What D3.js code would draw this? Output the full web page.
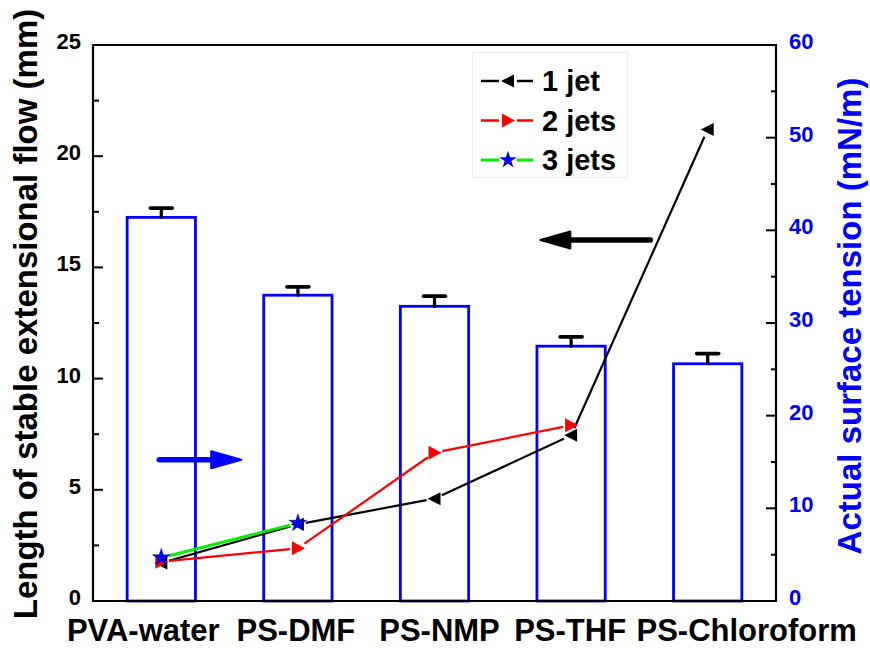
<!DOCTYPE html>
<html>
<head>
<meta charset="utf-8">
<script src="https://cdn.jsdelivr.net/npm/d3@7"></script>
<style>
  body { margin: 0; background: #fff; }
  svg text { font-family: "Liberation Sans", Arial, sans-serif; font-weight: bold; }
</style>
</head>
<body>
<svg id="chart" width="870" height="648"></svg>
<script>
// solvents / categories
const categories = ['PVA-water', 'PS-DMF', 'PS-NMP', 'PS-THF', 'PS-Chloroform'];
// actual surface tension (mN/m), right axis, bars
const surfaceTension = [41.4, 33.0, 31.8, 27.5, 25.6];
const tensionErr = [1.0, 0.9, 1.1, 1.0, 1.1];
// length of stable extensional flow (mm), left axis, lines
const jet1 = [1.71, 3.45, 4.6, 7.45, 21.2];
const jet2 = [1.77, 2.37, 6.67, 7.9, null];
const jet3 = [1.95, 3.5, null, null, null];
const leftTicks = [0, 5, 10, 15, 20, 25];
const rightTicks = [0, 10, 20, 30, 40, 50, 60];
// category label nudges (px), the labels are not centred in the original
const labelNudge = [-18, -2, 5, -1, 39];

const svg = d3.select('#chart');
const margin = {top: 45, right: 94, bottom: 47, left: 93};
const W = 870, H = 648;

// scales
const x = d3.scaleBand()
    .domain(categories)
    .range([margin.left, W - margin.right])
    .paddingInner(0.5)
    .paddingOuter(0.25);
const yL = d3.scaleLinear().domain([0, 25]).range([H - margin.bottom, margin.top]);
const yR = d3.scaleLinear().domain([0, 60]).range([H - margin.bottom, margin.top]);
const cx = d => x(d) + x.bandwidth() / 2;
// category index -> px, for the arrows
const xi = d3.scaleLinear().domain([0, 1]).range([cx(categories[0]), cx(categories[1])]);

// bars
svg.append('g').selectAll('rect')
    .data(categories)
    .join('rect')
    .attr('x', d => x(d))
    .attr('y', (d, i) => yR(surfaceTension[i]))
    .attr('width', x.bandwidth())
    .attr('height', (d, i) => yR(0) - yR(surfaceTension[i]))
    .attr('fill', 'none')
    .attr('stroke', '#0000ff')
    .attr('stroke-width', 2.8);

// error bars (upper half only)
const eb = svg.append('g').attr('stroke', '#000').attr('stroke-linecap', 'round');
categories.forEach((c, i) => {
    eb.append('line')
        .attr('x1', cx(c)).attr('x2', cx(c))
        .attr('y1', yR(surfaceTension[i])).attr('y2', yR(surfaceTension[i] + tensionErr[i]))
        .attr('stroke-width', 3.2);
    eb.append('line')
        .attr('x1', cx(c) - 11).attr('x2', cx(c) + 11)
        .attr('y1', yR(surfaceTension[i] + tensionErr[i])).attr('y2', yR(surfaceTension[i] + tensionErr[i]))
        .attr('stroke-width', 3.6);
});

// frame + axes
const axisG = svg.append('g').attr('stroke', '#000').attr('stroke-width', 2.2);
axisG.append('path')
    .attr('fill', 'none')
    .attr('d', `M${margin.left},${margin.top}H${W - margin.right}V${H - margin.bottom}H${margin.left}Z`);

// left ticks
d3.range(0, 25.01, 2.5).forEach(v => {
    const major = v % 5 === 0;
    axisG.append('line')
        .attr('x1', margin.left).attr('x2', margin.left + (major ? 10 : 6))
        .attr('y1', yL(v)).attr('y2', yL(v))
        .attr('stroke-width', 2);
});
// right ticks
d3.range(0, 60.01, 5).forEach(v => {
    const major = v % 10 === 0;
    axisG.append('line')
        .attr('x1', W - margin.right).attr('x2', W - margin.right - (major ? 10 : 5))
        .attr('y1', yR(v)).attr('y2', yR(v))
        .attr('stroke-width', 2);
});

svg.append('g').selectAll('text')
    .data(leftTicks)
    .join('text')
    .attr('x', 81)
    .attr('y', d => yL(d) + 4)
    .attr('text-anchor', 'end')
    .attr('font-size', 22)
    .text(d => d);

svg.append('g').selectAll('text')
    .data(rightTicks)
    .join('text')
    .attr('x', 789)
    .attr('y', d => yR(d) + 4)
    .attr('fill', '#0000ff')
    .attr('font-size', 22)
    .text(d => d);

// category labels
svg.append('g').selectAll('text')
    .data(categories)
    .join('text')
    .attr('x', (d, i) => cx(d) + labelNudge[i])
    .attr('y', 641)
    .attr('text-anchor', 'middle')
    .attr('font-size', 31)
    .text(d => d);

// axis titles
svg.append('text')
    .attr('transform', `translate(37,${314}) rotate(-90)`)
    .attr('text-anchor', 'middle')
    .attr('font-size', 33)
    .text('Length of stable extensional flow (mm)');

svg.append('text')
    .attr('transform', `translate(861,${316}) rotate(-90)`)
    .attr('text-anchor', 'middle')
    .attr('font-size', 33)
    .attr('fill', '#0000ff')
    .text('Actual surface tension (mN/m)');

// annotation arrows
function arrow(x1, x2, yv, color) {
    const g = svg.append('g');
    const dir = Math.sign(x2 - x1);
    const headLen = 30, headH = 17;
    const px1 = xi(x1), px2 = xi(x2), py = yL(yv);
    g.append('line')
        .attr('x1', px1).attr('x2', px2 - dir * headLen * 0.6)
        .attr('y1', py).attr('y2', py)
        .attr('stroke', color).attr('stroke-width', 5.5).attr('stroke-linecap', 'round');
    g.append('path')
        .attr('d', `M${px2},${py}L${px2 - dir * headLen},${py - headH / 2}L${px2 - dir * headLen},${py + headH / 2}Z`)
        .attr('fill', color).attr('stroke', color).attr('stroke-width', 2).attr('stroke-linejoin', 'round');
}
arrow(-0.015, 0.585, 6.35, '#0000ff');
arrow(3.58, 2.775, 16.23, '#000');

// series
const series = [
    {name: '1 jet', values: jet1, color: '#000', marker: 'left'},
    {name: '2 jets', values: jet2, color: '#ff0000', marker: 'right'},
    {name: '3 jets', values: jet3, color: '#00ee00', marker: 'star'}
];

function markerPath(type) {
    if (type === 'left') return 'M-7,0L6,-6.5L6,6.5Z';
    if (type === 'right') return 'M7,0L-6,-7L-6,7Z';
    return d3.symbol(d3.symbolStar, 95)();
}

const gap = 8;
series.forEach(s => {
    const pts = categories.map((c, i) => [cx(c), s.values[i] == null ? null : yL(s.values[i])])
        .filter(p => p[1] != null);
    const g = svg.append('g');
    for (let i = 0; i < pts.length - 1; i++) {
        const [ax, ay] = pts[i], [bx, by] = pts[i + 1];
        const len = Math.hypot(bx - ax, by - ay);
        const ux = (bx - ax) / len, uy = (by - ay) / len;
        g.append('line')
            .attr('x1', ax + ux * gap).attr('y1', ay + uy * gap)
            .attr('x2', bx - ux * gap).attr('y2', by - uy * gap)
            .attr('stroke', s.color)
            .attr('stroke-width', s.marker === 'star' ? 3 : 2.2);
    }
    s.pts = pts;
});
series.forEach(s => {
    svg.append('g').selectAll('path')
        .data(s.pts)
        .join('path')
        .attr('transform', d => `translate(${d[0]},${d[1]})`)
        .attr('d', markerPath(s.marker))
        .attr('fill', s.marker === 'star' ? '#0000ff' : s.color)
        .attr('stroke', s.marker === 'star' ? '#000066' : 'none')
        .attr('stroke-width', 0.5);
});

// legend
const lg = svg.append('g');
lg.append('rect')
    .attr('x', 472.5).attr('y', 52.5)
    .attr('width', 155).attr('height', 125)
    .attr('fill', '#fff')
    .attr('stroke', '#ececec');
series.forEach((s, i) => {
    const yy = 81 + i * 39.5;
    [[481, 499], [517, 533]].forEach(seg => {
        lg.append('line')
            .attr('x1', seg[0]).attr('x2', seg[1])
            .attr('y1', yy).attr('y2', yy)
            .attr('stroke', s.color)
            .attr('stroke-width', s.marker === 'star' ? 3 : 2.5);
    });
    lg.append('path')
        .attr('transform', `translate(508,${yy})`)
        .attr('d', markerPath(s.marker))
        .attr('fill', s.marker === 'star' ? '#0000ff' : s.color);
    lg.append('text')
        .attr('x', 542)
        .attr('y', yy + 10)
        .attr('font-size', 29)
        .text(s.name);
});
</script>
</body>
</html>
